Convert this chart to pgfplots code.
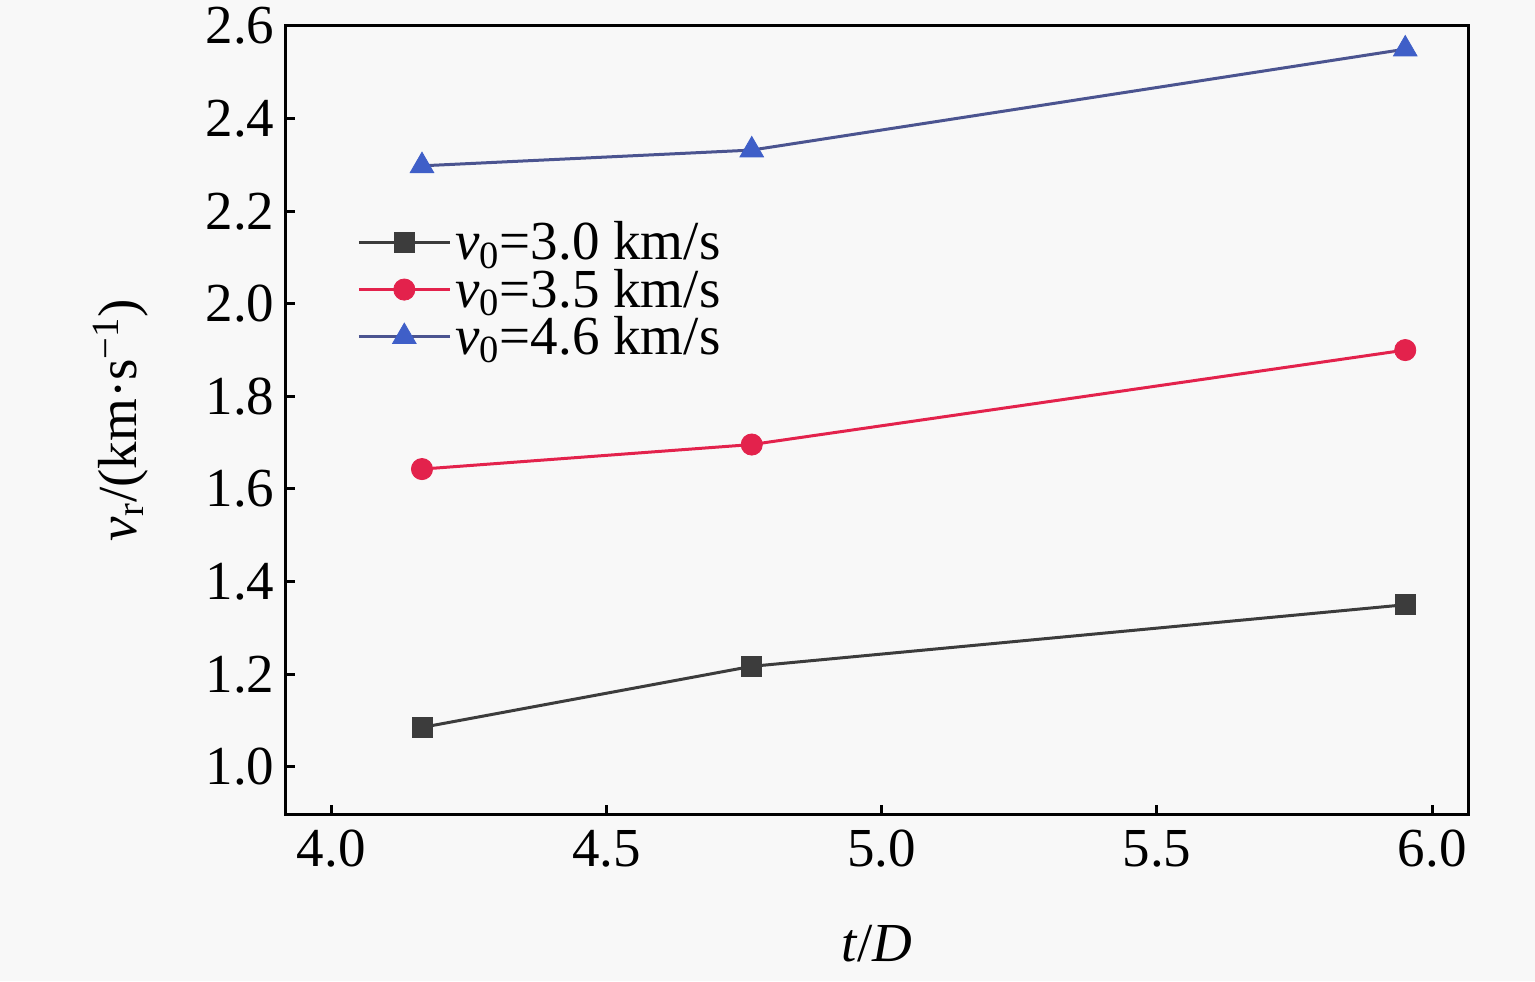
\documentclass[border=0pt]{standalone}
\usepackage{fontspec}
\setmainfont{Liberation Serif}
\usepackage{pgfplots}
\pgfplotsset{compat=1.18}
\definecolor{cblack}{HTML}{3C3C3C}
\definecolor{cred}{HTML}{E3224C}
\definecolor{cblue}{HTML}{3F5FC8}
\definecolor{cblueline}{HTML}{4B5490}
\definecolor{bg}{HTML}{F8F8F8}
\begin{document}
\begin{tikzpicture}
\fill[bg] (-143pt,-83.5pt) rectangle (624.5pt,407pt);
\useasboundingbox (-143pt,-83.5pt) rectangle (624.5pt,407pt);
\begin{axis}[
  at={(0,0)}, anchor=south west,
  scale only axis, width=591pt, height=394pt,
  xmin=3.918, xmax=6.065, ymin=0.898, ymax=2.6,
  xtick={4.0,4.5,5.0,5.5,6.0},
  ytick={1.0,1.2,1.4,1.6,1.8,2.0,2.2,2.4,2.6},
  tick label style={/pgf/number format/fixed, /pgf/number format/fixed zerofill, /pgf/number format/precision=1, /pgf/number format/assume math mode=true},
  font=\fontsize{27.5}{33}\selectfont,
  tick align=inside, major tick length=4.5pt, tick pos=left,
  axis line style={line width=1.5pt, black},
  every tick/.style={line width=1.5pt, black},
  xticklabel style={yshift=-4.5pt},
  yticklabel style={xshift=-2.3pt},
  xlabel={\textit{t}/\textit{D}},
  xlabel style={at={(axis description cs:0.5,-0.164)}, anchor=center},
  ylabel={\textit{v}\textsubscript{r}/(km·s\textsuperscript{−1})},
  ylabel style={at={(axis description cs:-0.14,0.5)}, anchor=center},
  legend style={at={(rel axis cs:0.06,0.752)}, anchor=north west, draw=none, fill=none,
    inner sep=0pt, row sep=3pt, column sep=2pt, nodes={inner sep=0pt},
    font=\fontsize{27.5}{33}\selectfont},
  legend cell align=left,
  legend image code/.code={\draw[mark repeat=2,mark phase=2] plot coordinates {(0pt,0pt) (22.75pt,0pt) (45.5pt,0pt)};},
]
\addplot[color=cblack, line width=1.5pt, mark=square*, mark size=5pt, mark options={solid, fill=cblack, line width=0.4pt}]
  coordinates {(4.165,1.085) (4.764,1.217) (5.951,1.350)};
\addlegendentry{\textit{v}\textsubscript{0}=3.0 km/s}
\addplot[color=cred, line width=1.5pt, mark=*, mark size=5.3pt, mark options={solid, fill=cred, line width=0.4pt}]
  coordinates {(4.165,1.643) (4.764,1.696) (5.951,1.900)};
\addlegendentry{\textit{v}\textsubscript{0}=3.5 km/s}
\addplot[color=cblueline, line width=1.5pt, mark=triangle*, mark size=6.8pt, mark options={solid, fill=cblue, draw=cblue, line width=0.4pt}]
  coordinates {(4.165,2.298) (4.764,2.332) (5.951,2.550)};
\addlegendentry{\textit{v}\textsubscript{0}=4.6 km/s}
\end{axis}
\end{tikzpicture}
\end{document}
